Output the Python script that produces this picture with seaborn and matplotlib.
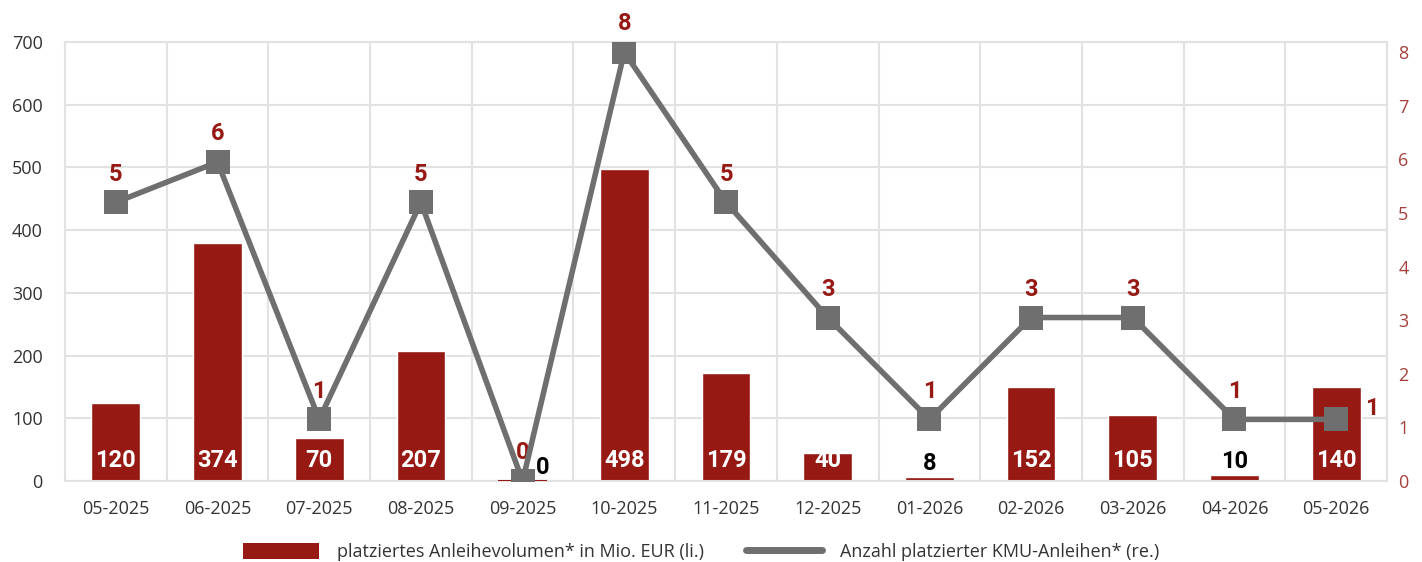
import numpy as np
import pandas as pd
import matplotlib
matplotlib.use('Agg')
import matplotlib.pyplot as plt
import seaborn as sns
from matplotlib.lines import Line2D
from matplotlib.patches import Patch

# Data
months = ['05-2025', '06-2025', '07-2025', '08-2025', '09-2025', '10-2025', '11-2025',
          '12-2025', '01-2026', '02-2026', '03-2026', '04-2026', '05-2026']
volume_bar = [124, 380, 69, 207, 1, 497, 172, 45, 7, 150, 105, 10, 150]
volume_label = [120, 374, 70, 207, 0, 498, 179, 40, 8, 152, 105, 10, 140]
count_pos = [5.2, 5.95, 1.15, 5.2, 0, 8.0, 5.2, 3.05, 1.15, 3.05, 3.05, 1.15, 1.15]
count_label = [5, 6, 1, 5, 0, 8, 5, 3, 1, 3, 3, 1, 1]

RED = '#961914'
GREY = '#6f6f6f'
GRID = '#e2e2e2'

sns.set_theme(style='white')
plt.rcParams['font.family'] = ['Open Sans', 'DejaVu Sans']
bold_font = ['Roboto', 'DejaVu Sans']

df = pd.DataFrame({'month': months, 'x': np.arange(len(months)),
                   'volume': volume_bar, 'count': count_pos})

fig = plt.figure(figsize=(14.22, 5.62), dpi=100)
ax = fig.add_axes([0.0457, 0.1441, 0.9297, 0.7812])

sns.barplot(data=df, x='month', y='volume', color=RED, width=0.48, saturation=1,
            ax=ax, zorder=2)
ax.set_xlim(-0.5, len(months) - 0.5)
ax.set_ylim(0, 700)
ax.set_yticks(range(0, 701, 100))
ax.set_xlabel('')
ax.set_ylabel('')
ax.set_xticks(np.arange(len(months)) + 0.5, minor=True)
ax.grid(True, which='minor', axis='x', color=GRID, lw=1.5)
ax.grid(True, which='major', axis='y', color=GRID, lw=1.5)
ax.grid(False, which='major', axis='x')
ax.set_axisbelow(True)
for s in ax.spines.values():
    s.set_color(GRID)
    s.set_linewidth(1.5)
ax.tick_params(axis='y', length=0, pad=16, labelsize=13, labelcolor='#333333')
ax.tick_params(axis='x', which='both', length=0, pad=14, labelsize=13, labelcolor='#333333')

# thin red mark for the empty month
ax.hlines(0.8, 3.76, 4.24, color=RED, lw=1.5, zorder=3)

# bar labels
lab_kw = dict(ha='center', va='bottom', fontsize=17, fontweight='bold',
              family=bold_font, zorder=3)
for i, (h, lab) in enumerate(zip(volume_bar, volume_label)):
    if h < 20:
        continue
    ax.text(i, 14, str(lab), color='white', **lab_kw)
ax.text(4.2, 4, '0', color='black', **lab_kw)
ax.text(8, 10, '8', color='black', **lab_kw)
ax.text(11, 13, '10', color='black', **lab_kw)

ax2 = ax.twinx()
sns.lineplot(data=df, x='x', y='count', color=GREY, lw=4, marker='s', markersize=17,
             markeredgewidth=0, ax=ax2, zorder=4)
ax2.set_ylim(0, 8.19)
ax2.set_yticks(range(0, 9))
ax2.set_ylabel('')
ax2.set_xlabel('')
ax2.grid(False)
for s in ax2.spines.values():
    s.set_visible(False)
ax2.tick_params(axis='y', length=0, pad=8, labelsize=13, labelcolor='#a5403b')

for i, (p, lab) in enumerate(zip(count_pos, count_label)):
    if i == len(count_pos) - 1:
        ax2.annotate(str(lab), (i, p), xytext=(26, 8), textcoords='offset points',
                     ha='center', va='center', color=RED, fontsize=17,
                     fontweight='bold', family=bold_font)
    else:
        ax2.annotate(str(lab), (i, p), xytext=(0, 12), textcoords='offset points',
                     ha='center', va='bottom', color=RED, fontsize=17,
                     fontweight='bold', family=bold_font)

handles = [Patch(facecolor=RED, edgecolor='none'),
           Line2D([0], [0], color=GREY, lw=5, solid_capstyle='round')]
labels = ['platziertes Anleihevolumen* in Mio. EUR (li.)',
          'Anzahl platzierter KMU-Anleihen* (re.)']
fig.legend(handles, labels, loc='center', bbox_to_anchor=(0.493, 0.018), ncol=2,
           frameon=False, fontsize=13, handlelength=4.2, handleheight=1.0,
           columnspacing=2.3, handletextpad=1.0, labelcolor='#333333')

fig.savefig('out.png', dpi=100)
